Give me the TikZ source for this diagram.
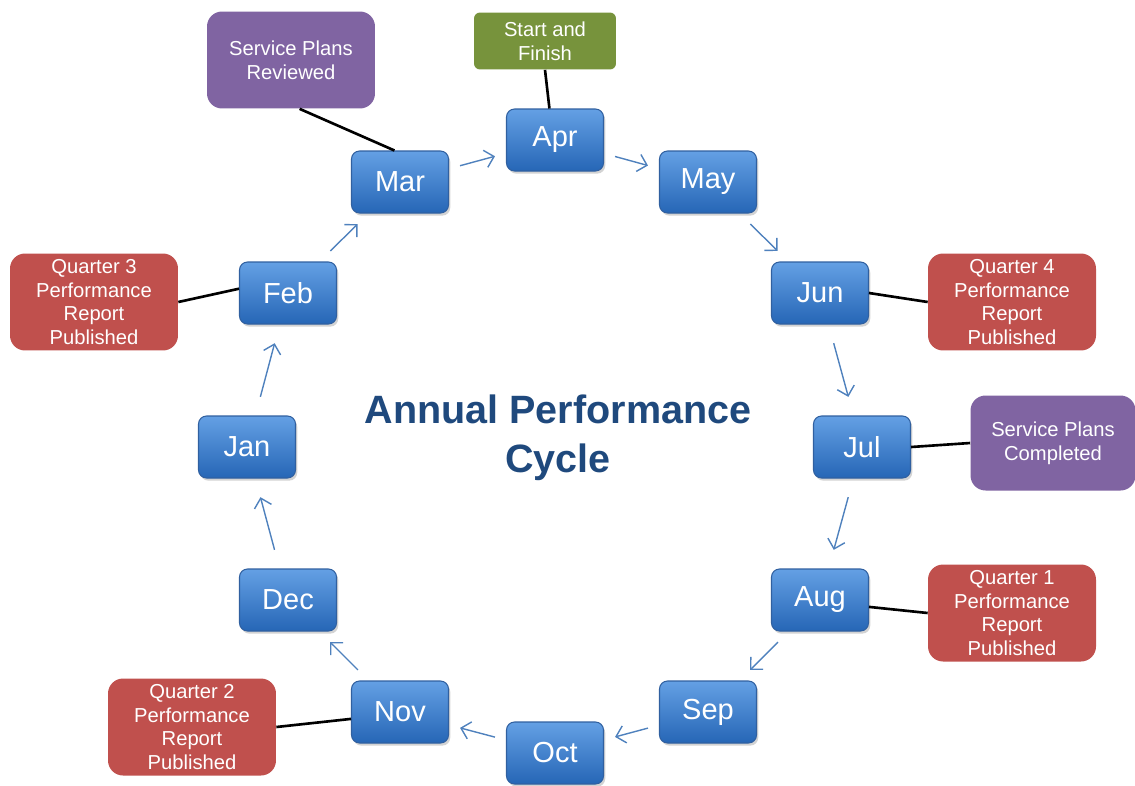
\documentclass[tikz,border=0pt]{standalone}
\usepackage{fontspec}
\setmainfont{Liberation Sans}
\usetikzlibrary{arrows.meta,shadows}

\definecolor{monthtop}{RGB}{100,160,228}
\definecolor{monthbot}{RGB}{38,102,182}
\definecolor{monthedge}{RGB}{48,96,160}
\definecolor{qred}{RGB}{192,80,77}
\definecolor{planpurple}{RGB}{128,100,162}
\definecolor{startgreen}{RGB}{119,147,60}
\definecolor{flowblue}{RGB}{79,129,189}
\definecolor{titleblue}{RGB}{31,73,125}

\begin{document}
\begin{tikzpicture}[x=0.02cm, y=-0.02cm,
    month/.style={rounded corners=0.16cm, draw=monthedge, line width=0.6pt,
        top color=monthtop, bottom color=monthbot, text=white,
        minimum width=1.94cm, minimum height=1.24cm,
        font=\fontsize{16.5}{19}\selectfont,
        drop shadow={opacity=0.35, shadow xshift=1pt, shadow yshift=-1.5pt}},
    note/.style={rounded corners=0.3cm, text=white, align=center,
        minimum width=3.36cm, minimum height=1.94cm, inner sep=2pt,
        font=\fontsize{11.5}{13.6}\selectfont},
    flow/.style={draw=flowblue, line width=0.8pt,
        -{Straight Barb[length=5pt, width=10pt]}},
    link/.style={draw=black, line width=1.5pt}]
    \useasboundingbox (0,0) rectangle (1135,785);

    % months round the cycle
    \node [month] (apr) at (555,140) {Apr};
    \node [month] (may) at (708,182) {May};
    \node [month] (jun) at (820,293) {Jun};
    \node [month] (jul) at (862,447) {Jul};
    \node [month] (aug) at (820,600) {Aug};
    \node [month] (sep) at (708,712) {Sep};
    \node [month] (oct) at (555,753) {Oct};
    \node [month] (nov) at (400,712) {Nov};
    \node [month] (dec) at (288,600) {Dec};
    \node [month] (jan) at (247,447) {Jan};
    \node [month] (feb) at (288,293) {Feb};
    \node [month] (mar) at (400,182) {Mar};

    \node (title) at (558,438) [font=\bfseries\fontsize{22.5}{28}\selectfont,
        text=titleblue, align=center] {Annual Performance\\Cycle};

    % notes
    \node [note, fill=planpurple] (reviewed) at (291,60) {Service Plans\\Reviewed};
    \node [note, fill=startgreen, minimum width=2.84cm, minimum height=1.14cm,
        rounded corners=0.12cm] (start) at (545,41) {Start and\\Finish};
    \node [note, fill=qred] (qthree) at (94,302) {Quarter 3\\Performance\\Report\\Published};
    \node [note, fill=qred] (qfour) at (1012,302) {Quarter 4\\Performance\\Report\\Published};
    \node [note, fill=planpurple, minimum width=3.3cm, minimum height=1.9cm]
        (completed) at (1053,443) {Service Plans\\Completed};
    \node [note, fill=qred] (qone) at (1012,613) {Quarter 1\\Performance\\Report\\Published};
    \node [note, fill=qred] (qtwo) at (192,727) {Quarter 2\\Performance\\Report\\Published};

    % arrows between months
    \foreach \a/\b/\s in {mar/apr/6.5, apr/may/6.5, may/jun/8.5, jun/jul/11,
        jul/aug/11, aug/sep/8.5, sep/oct/6.5, oct/nov/6.5, nov/dec/8.5,
        dec/jan/11, jan/feb/11, feb/mar/8.5}
        \draw [flow, shorten <=\s pt, shorten >=\s pt] (\a) -- (\b);

    % links to notes
    \draw [link] (reviewed.-80) -- (mar.100);
    \draw [link] (start.south) -- (apr.100);
    \draw [link] (qthree.east) -- (feb.175);
    \draw [link] (jun.east) -- (qfour.west);
    \draw [link] (jul.east) -- (completed.west);
    \draw [link] (aug.-8) -- (qone.west);
    \draw [link] (nov.-172) -- (qtwo.east);
\end{tikzpicture}
\end{document}
